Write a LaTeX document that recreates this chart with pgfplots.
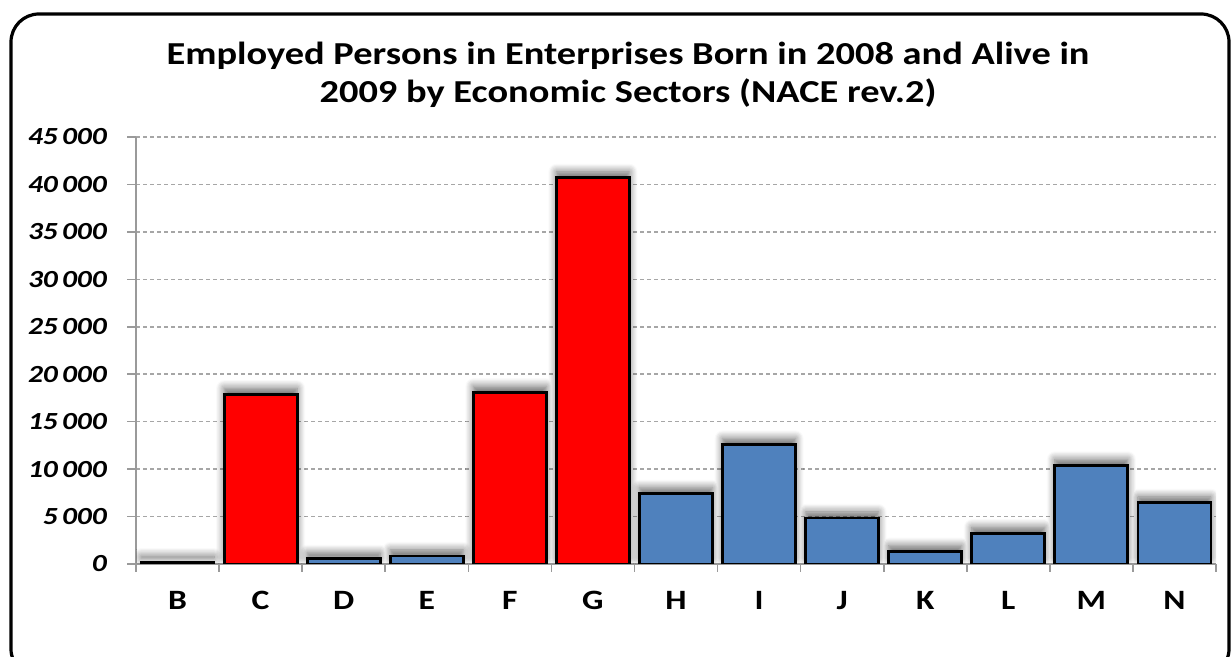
\documentclass[border=0pt]{standalone}
\usepackage{pgfplots}
\pgfplotsset{compat=1.18}
\usetikzlibrary{shadows.blur}
\usepackage{fontspec}
\setmainfont{Carlito}[FakeStretch=1.2]
\newfontfamily\titlefont{Carlito}[FakeStretch=1.2]
\definecolor{barblue}{HTML}{4F81BD}
\definecolor{gridgray}{HTML}{A6A6A6}
\definecolor{axisgray}{HTML}{9A9A9A}
\begin{document}
\begin{tikzpicture}
\useasboundingbox (0pt,0pt) rectangle (616pt,328.5pt);
\begin{scope}
\clip (0pt,0pt) rectangle (616pt,328.5pt);
\draw[line width=1.6pt, rounded corners=14pt] (5.5pt,-10pt) rectangle (614.5pt,321.5pt);
\end{scope}
\node[align=center, font=\titlefont\bfseries\fontsize{16}{19.3}\selectfont] at (314pt,291pt) {Employed Persons in Enterprises Born in 2008 and Alive in\\2009 by Economic Sectors (NACE rev.2)};
\begin{axis}[
  at={(68pt,46.5pt)}, anchor=south west,
  scale only axis, width=540pt, height=213.5pt,
  xmin=-0.5, xmax=12.5, ymin=0, ymax=45000,
  axis x line*=bottom, axis y line*=left,
  axis line style={axisgray, line width=0.8pt},
  xtick={0,...,12},
  xticklabels={B,C,D,E,F,G,H,I,J,K,L,M,N},
  x tick style={draw=none},
  extra x ticks={-0.5,0.5,...,12.5},
  extra x tick labels={},
  extra x tick style={grid=none, x tick style={draw=axisgray, line width=0.8pt}, tick align=outside, major tick length=4pt},
  xticklabel style={font=\bfseries\fontsize{14}{16}\selectfont, anchor=base, yshift=-18.5pt},
  ytick={0,5000,...,45000},
  scaled y ticks=false,
  ymajorgrids,
  major grid style={gridgray, dash pattern=on 2pt off 1.5pt, line width=0.8pt},
  y tick style={axisgray, line width=0.8pt},
  tick align=outside, major tick length=4.5pt,
  yticklabel style={font=\bfseries\itshape\fontsize{12.3}{14}\selectfont, anchor=east, xshift=-6.5pt},
  yticklabel={\pgfmathprintnumber[fixed, precision=0, 1000 sep={\,}, assume math mode=true]{\tick}},
  every axis plot/.append style={blur shadow={shadow xshift=0pt, shadow yshift=3pt, shadow blur steps=8, shadow blur radius=4pt, shadow opacity=60}},
]
\addplot[ybar, bar width=36.5pt, bar shift=0pt, fill=barblue, draw=black, line width=1.4pt]
  coordinates {(0,200) (2,550) (3,850) (6,7400) (7,12600) (8,4850) (9,1300) (10,3250) (11,10400) (12,6450)};
\addplot[ybar, bar width=36.5pt, bar shift=0pt, fill=red, draw=black, line width=1.4pt]
  coordinates {(1,17900) (4,18100) (5,40700)};
\end{axis}
\end{tikzpicture}
\end{document}
